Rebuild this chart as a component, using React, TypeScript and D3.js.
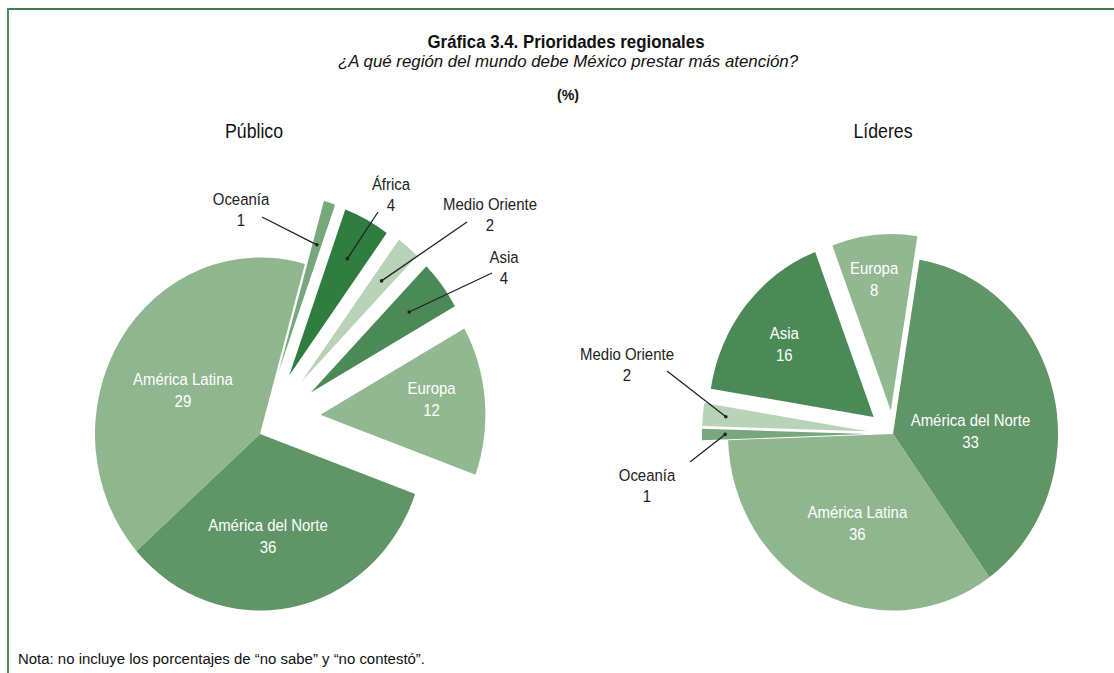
import * as d3 from "d3";

// Público: wedges run clockwise from the start angle
const publicoCategories = ["Oceanía", "África", "Medio Oriente", "Asia", "Europa", "América del Norte", "América Latina"];
// wedge sizes as drawn in the source (its Norte / Latina labels are swapped there)
const publicoValues = [1, 4, 2, 4, 12, 29, 36];
// numbers printed on the labels
const publicoLabels = ["1", "4", "2", "4", "12", "36", "29"];

// Líderes
const lideresCategories = ["América del Norte", "América Latina", "Oceanía", "Medio Oriente", "Asia", "Europa"];
const lideresValues = [36, 33, 1, 2, 16, 8];
const lideresLabels = ["33", "36", "1", "2", "16", "8"];

const colors: Record<string, string> = {
  "América del Norte": "#5f9567",
  "América Latina": "#8fb68f",
  Europa: "#92b892",
  Asia: "#4b8a56",
  "Medio Oriente": "#b8d3b8",
  "África": "#2f7e40",
  "Oceanía": "#78a77d",
};

const FONT = "'Liberation Sans', Arial, sans-serif";

type Callout = { tx: number; ty: number; lx: number; ly: number };
type Layout = {
  cx: number; cy: number; r: number; sy: number; start: number;
  explode: Record<string, [number, number]>; // distance, direction shift from mid angle (deg)
  inside: Record<string, [number, number]>; // radius fraction, angle shift (deg)
  callouts: Record<string, Callout>;
  leaderR: number;
};

const publicoLayout: Layout = {
  cx: 260, cy: 434, r: 165, sy: 1.07, start: 15.8,
  explode: {
    "Oceanía": [62, 0], "África": [62, 0], "Medio Oriente": [64, 0], Asia: [64, 0],
    Europa: [63, -12],
  },
  inside: { Europa: [0.68, -3], "América del Norte": [0.58, 6], "América Latina": [0.53, -4] },
  callouts: {
    "Oceanía": { tx: 241, ty: 205, lx: 262, ly: 217 },
    "África": { tx: 391, ty: 190, lx: 378, ly: 212 },
    "Medio Oriente": { tx: 490, ty: 210, lx: 467, ly: 222 },
    Asia: { tx: 504, ty: 263, lx: 492, ly: 273 },
  },
  leaderR: 0.75,
};

const lideresLayout: Layout = {
  cx: 893, cy: 434, r: 165, sy: 1.07, start: 9.25,
  explode: { Europa: [22, 0], Asia: [25, 0], "Medio Oriente": [26, 0], "Oceanía": [26, 0] },
  inside: { Europa: [0.75, -2], Asia: [0.68, -2], "América del Norte": [0.47, 11], "América Latina": [0.55, -3] },
  callouts: {
    "Medio Oriente": { tx: 627, ty: 360, lx: 667, ly: 371 },
    "Oceanía": { tx: 647, ty: 481, lx: 690, ly: 462 },
  },
  leaderR: 0.86,
};

function Txt({ x, y, text, size = 17, sx = 0.88, fill = "#222", weight = "normal", italic = false, anchor = "middle", len }: any) {
  return (
    <text
      transform={`translate(${x},${y}) scale(${len ? 1 : sx},1)`}
      textAnchor={anchor}
      fontSize={size}
      fontFamily={FONT}
      fontWeight={weight}
      fontStyle={italic ? "italic" : "normal"}
      fill={fill}
      textLength={len}
      lengthAdjust={len ? "spacingAndGlyphs" : undefined}
    >
      {text}
    </text>
  );
}

function Pie({ cats, values, labels, L }: { cats: string[]; values: number[]; labels: string[]; L: Layout }) {
  const a0 = (L.start * Math.PI) / 180;
  const arcs = d3.pie<number>().sort(null).startAngle(a0).endAngle(a0 + 2 * Math.PI)(values);
  const arc = d3.arc<d3.PieArcDatum<number>>().innerRadius(0).outerRadius(L.r);

  // explode offset (unscaled) of a wedge
  const offset = (c: string, d: d3.PieArcDatum<number>): [number, number] => {
    const [e, sh] = L.explode[c] || [0, 0];
    const m = (d.startAngle + d.endAngle) / 2 + (sh * Math.PI) / 180;
    return [e * Math.sin(m), -e * Math.cos(m)];
  };
  // screen point at angle a, radius rho inside an exploded wedge
  const pt = (a: number, rho: number, o: [number, number]): [number, number] => [
    L.cx + o[0] + rho * Math.sin(a),
    L.cy + L.sy * (o[1] - rho * Math.cos(a)),
  ];

  return (
    <g>
      <g transform={`translate(${L.cx},${L.cy}) scale(1,${L.sy})`}>
        {arcs.map((d, i) => {
          const o = offset(cats[i], d);
          return <path key={cats[i]} d={arc(d) || ""} fill={colors[cats[i]]} transform={`translate(${o[0]},${o[1]})`} />;
        })}
      </g>
      {arcs.map((d, i) => {
        const c = cats[i];
        const o = offset(c, d);
        const m = (d.startAngle + d.endAngle) / 2;
        if (L.inside[c]) {
          const [f, sh] = L.inside[c];
          const [x, y] = pt(m + (sh * Math.PI) / 180, f * L.r, o);
          return (
            <g key={c}>
              <Txt x={x} y={y - 5} text={c} fill="#fff" />
              <Txt x={x} y={y + 17} text={labels[i]} fill="#fff" />
            </g>
          );
        }
        const co = L.callouts[c];
        if (!co) return null;
        const [px, py] = pt(m, L.leaderR * L.r, o);
        return (
          <g key={c}>
            <line x1={co.lx} y1={co.ly} x2={px} y2={py} stroke="#222" strokeWidth={1.3} />
            <circle cx={px} cy={py} r={1.8} fill="#222" />
            <Txt x={co.tx} y={co.ty} text={c} />
            <Txt x={co.tx} y={co.ty + 21} text={labels[i]} />
          </g>
        );
      })}
    </g>
  );
}

export default function App() {
  return (
    <svg width={1114} height={673} style={{ position: "absolute", left: 0, top: 0, background: "#fff" }}>
      <line x1={7} y1={9} x2={1114} y2={9} stroke="#3f7f50" strokeWidth={2.2} />
      <line x1={8} y1={8} x2={8} y2={673} stroke="#4f8f5f" strokeWidth={2} />

      <Txt x={566} y={48} text="Gráfica 3.4. Prioridades regionales" size={18.5} weight="bold" len={277} fill="#111" />
      <Txt x={568} y={67} text="¿A qué región del mundo debe México prestar más atención?" size={17} italic len={460} fill="#111" />
      <Txt x={568} y={100} text="(%)" size={15} weight="bold" len={22} fill="#111" />

      <Txt x={254} y={138} text="Público" size={21} len={58} fill="#111" />
      <Txt x={883} y={138} text="Líderes" size={21} len={59} fill="#111" />

      <Pie cats={publicoCategories} values={publicoValues} labels={publicoLabels} L={publicoLayout} />
      <Pie cats={lideresCategories} values={lideresValues} labels={lideresLabels} L={lideresLayout} />

      <Txt x={18} y={664} anchor="start" text="Nota: no incluye los porcentajes de “no sabe” y “no contestó”." size={15.5} len={407} fill="#111" />
    </svg>
  );
}
